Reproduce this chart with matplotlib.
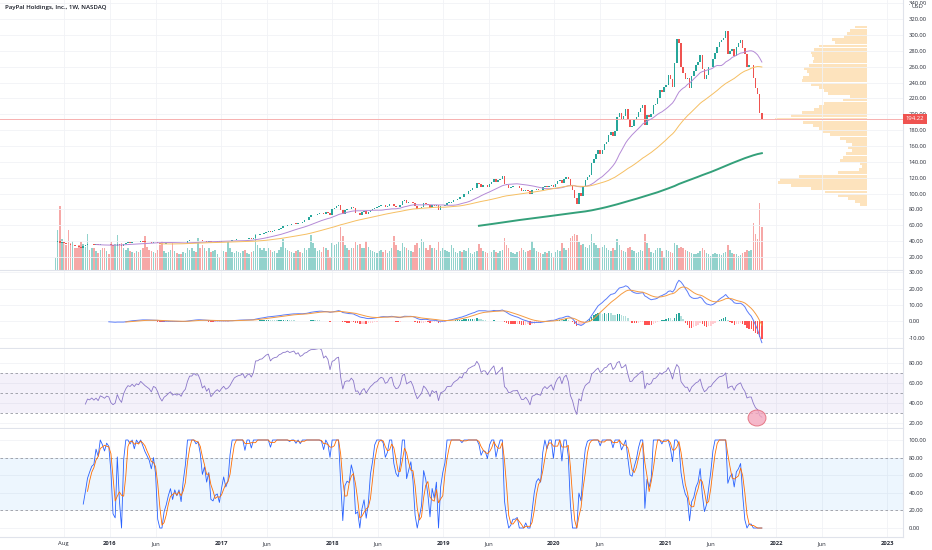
import numpy as np
import pandas as pd
import matplotlib
matplotlib.use("Agg")
import matplotlib.pyplot as plt
import matplotlib.dates as mdates
from matplotlib.patches import Ellipse
from matplotlib.transforms import blended_transform_factory

plt.rcParams['font.family'] = ['Open Sans', 'DejaVu Sans']

# weekly closes of PYPL, first week 2015-07-06
first_week = "2015-07-06"
closes = [
    # 2015
    38.5, 40.2, 38.3, 38.7, 37.5, 36.8, 35.9, 35.0, 35.6, 34.1,
    33.5, 32.3, 31.0, 33.5, 34.8, 36.2, 35.9, 36.4, 35.7, 36.2,
    35.4, 36.6, 36.3, 35.9, 36.4, 36.2,
    # 2016
    34.6, 34.0, 34.3, 36.1, 34.8, 33.9, 36.0, 37.4, 38.4, 38.2,
    38.9, 38.4, 39.2, 39.0, 40.0, 39.6, 39.2, 38.9, 38.6, 38.0,
    39.2, 39.0, 38.2, 37.0, 36.2, 36.9, 37.2, 37.6, 37.9, 37.3,
    37.5, 37.3, 37.5, 37.1, 37.8, 38.2, 39.7, 41.0, 41.0, 41.7,
    41.5, 41.6, 41.0, 39.9, 40.3, 39.5, 40.0, 38.6, 39.0, 39.5,
    39.8, 39.5,
    # 2017
    40.0, 40.4, 40.0, 40.2, 40.6, 41.3, 42.0, 42.3, 42.5, 42.6,
    42.9, 42.5, 43.0, 43.3, 43.0, 43.9, 47.8, 47.9, 48.7, 48.9,
    50.1, 51.5, 52.3, 51.5, 53.0, 53.7, 54.0, 55.9, 56.8, 58.6,
    58.8, 60.5, 60.3, 61.2, 62.3, 61.9, 63.5, 63.0, 64.0, 66.5,
    67.3, 70.2, 72.6, 72.9, 73.5, 74.6, 75.6, 75.4, 74.1, 76.2,
    75.6, 73.6,
    # 2018
    80.5, 81.5, 84.6, 86.0, 79.6, 74.0, 79.5, 80.2, 80.0, 82.5,
    81.3, 75.6, 75.9, 73.5, 76.2, 77.5, 74.9, 77.0, 79.0, 80.3,
    82.0, 82.5, 84.4, 85.7, 85.3, 83.3, 84.0, 86.7, 87.3, 84.0,
    82.6, 83.0, 85.0, 91.0, 92.3, 88.0, 89.0, 89.9, 87.8, 84.0,
    80.5, 82.0, 83.5, 88.2, 87.0, 85.0, 82.0, 85.8, 84.5, 85.4,
    79.0, 84.1, 84.8,
    # 2019
    85.8, 88.5, 88.7, 88.8, 91.3, 92.5, 93.5, 95.8, 95.3, 99.5,
    100.0, 103.8, 105.0, 106.5, 107.3, 113.0, 111.8, 108.8, 110.4, 110.3,
    108.9, 112.0, 115.0, 118.0, 114.5, 116.8, 119.0, 122.5, 112.0, 110.5,
    107.5, 108.0, 109.0, 109.0, 109.3, 106.5, 103.5, 103.5, 104.6, 102.8,
    99.5, 104.0, 104.5, 105.3, 105.0, 104.6, 107.9, 109.3, 108.3, 109.5,
    110.5, 108.2,
    # 2020
    112.5, 115.5, 117.0, 113.9, 119.0, 121.0, 118.0, 109.0, 104.5, 95.0,
    87.0, 100.5, 97.5, 110.0, 117.5, 120.5, 123.0, 139.0, 143.5, 150.0,
    155.0, 150.5, 155.0, 163.0, 165.0, 174.0, 178.0, 172.0, 178.5, 196.0,
    201.0, 194.0, 197.5, 206.0, 194.5, 184.0, 185.0, 193.0, 197.0, 203.0,
    208.0, 212.0, 186.0, 199.5, 197.0, 200.0, 212.0, 213.5, 220.0, 230.0,
    228.0, 234.0,
    # 2021
    237.0, 250.0, 244.0, 234.3, 264.0, 295.0, 290.0, 259.9, 252.0, 245.0,
    245.5, 233.5, 248.0, 255.0, 262.0, 265.5, 275.0, 257.0, 245.0, 250.0,
    259.0, 260.0, 270.0, 277.0, 285.0, 291.5, 293.0, 296.0, 305.0, 275.5,
    280.0, 282.0, 273.0, 285.0, 290.0, 293.0, 283.0, 276.0, 260.0, 262.0,
    262.0, 246.0, 232.7, 226.0, 201.9, 194.22,
]

# weekly volume, millions of shares
volumes = [
    26, 90, 143, 70, 62, 55, 88, 60, 65, 50,
    48, 55, 62, 58, 52, 80, 45, 48, 50, 42,
    38, 45, 48, 50, 42, 35,
    62, 55, 58, 78, 55, 60, 50, 45, 48, 42,
    40, 38, 42, 40, 45, 48, 75, 52, 45, 42,
    40, 38, 45, 55, 65, 42, 38, 40, 45, 60,
    42, 38, 35, 36, 40, 38, 50, 45, 48, 42,
    40, 72, 50, 55, 48, 42, 50, 40, 42, 45,
    35, 30,
    45, 42, 40, 62, 48, 40, 38, 42, 40, 38,
    42, 45, 38, 36, 40, 42, 80, 55, 50, 45,
    48, 42, 50, 45, 40, 42, 38, 45, 52, 70,
    50, 45, 42, 40, 38, 42, 45, 40, 38, 48,
    45, 50, 78, 60, 48, 42, 45, 40, 52, 48,
    44, 30,
    60, 55, 58, 62, 95, 75, 55, 48, 45, 50,
    48, 62, 55, 58, 50, 48, 65, 52, 45, 42,
    40, 38, 42, 45, 40, 45, 38, 42, 48, 75,
    55, 45, 42, 60, 52, 48, 45, 42, 40, 55,
    60, 50, 68, 62, 50, 45, 55, 48, 50, 45,
    62, 42, 48,
    45, 42, 40, 55, 48, 40, 38, 42, 40, 45,
    42, 48, 38, 36, 40, 42, 58, 48, 42, 40,
    38, 42, 40, 45, 40, 38, 42, 45, 72, 55,
    48, 40, 38, 36, 40, 42, 48, 45, 40, 42,
    45, 65, 48, 42, 40, 38, 35, 40, 38, 42,
    38, 30,
    40, 45, 42, 60, 50, 45, 48, 72, 75, 80,
    78, 62, 55, 58, 52, 48, 55, 80, 60, 55,
    50, 48, 52, 55, 50, 45, 42, 48, 45, 70,
    55, 45, 42, 40, 48, 52, 45, 42, 38, 40,
    45, 42, 80, 60, 48, 40, 38, 45, 50, 48,
    42, 30,
    45, 42, 40, 38, 60, 55, 48, 52, 50, 45,
    42, 40, 38, 35, 36, 38, 42, 50, 45, 38,
    36, 32, 35, 38, 36, 35, 34, 38, 40, 55,
    45, 38, 36, 35, 32, 34, 38, 40, 45, 42,
    45, 105, 80, 70, 148, 95,
]

# visible range volume profile (price level -> relative volume)
profile_prices = [86, 90, 94, 98, 102, 106, 110, 114, 118, 122, 126, 130, 134, 138,
                  142, 146, 150, 154, 158, 162, 166, 170, 174, 178, 182, 186, 190, 194,
                  198, 202, 206, 210, 214, 218, 222, 226, 230, 234, 238, 242, 246, 250,
                  254, 258, 262, 266, 270, 274, 278, 282, 286, 290, 294, 298, 302, 306, 310]
profile_volume = [7, 12, 20, 30, 43, 58, 78, 92, 90, 70, 30, 8, 5, 7,
                  28, 25, 22, 15, 20, 15, 22, 28, 38, 45, 50, 56, 66, 95,
                  78, 67, 55, 50, 44, 25, 18, 40, 44, 50, 58, 67, 66, 60,
                  62, 65, 60, 56, 55, 57, 58, 55, 50, 33, 36, 24, 21, 18, 12]

price_ticks = list(range(20, 341, 20))
macd_ticks = [-10, 0, 10, 20, 30]
rsi_ticks = [20, 40, 60, 80]
stoch_ticks = [0, 20, 40, 60, 80, 100]
time_ticks = ["2015-08-01", "2016-01-01", "2016-06-01", "2017-01-01", "2017-06-01",
              "2018-01-01", "2018-06-01", "2019-01-01", "2019-06-01", "2020-01-01",
              "2020-06-01", "2021-01-01", "2021-06-01", "2022-01-01", "2022-06-01",
              "2023-01-01"]
time_labels = ["Aug", "2016", "Jun", "2017", "Jun", "2018", "Jun", "2019", "Jun",
               "2020", "Jun", "2021", "Jun", "2022", "Jun", "2023"]

UP, DOWN = "#26a69a", "#ef5350"
W, H = 932, 550


def rma(s, n):
    # Wilder smoothing seeded with a simple mean, like TradingView
    vals = s.values
    out = np.full(len(vals), np.nan)
    out[n] = np.nanmean(vals[1:n + 1])
    for i in range(n + 1, len(vals)):
        out[i] = (out[i - 1] * (n - 1) + vals[i]) / n
    return pd.Series(out, index=s.index)


# ---- series and indicators
dates = pd.date_range(first_week, periods=len(closes), freq="W-MON")
close = pd.Series(closes, index=dates, dtype=float)
opn = close.shift(1).fillna(close.iloc[0])
hi = np.maximum(opn, close)
lo = np.minimum(opn, close)
up = (close >= opn).values

sma20 = close.rolling(20).mean()
sma50 = close.rolling(50).mean()
sma200 = close.rolling(200).mean()

macd = close.ewm(span=12, adjust=False).mean() - close.ewm(span=26, adjust=False).mean()
macd.iloc[:25] = np.nan
signal = macd.ewm(span=9, adjust=False).mean()
signal.iloc[:33] = np.nan
hist = macd - signal
prev = hist.shift(1)
hist_colors = np.where(hist >= 0,
                       np.where(hist > prev, "#26a69a", "#b2dfdb"),
                       np.where(hist > prev, "#ffcdd2", "#ff5252"))

delta = close.diff()
gain = rma(delta.clip(lower=0), 14)
loss = rma(-delta.clip(upper=0), 14)
rsi = 100 - 100 / (1 + gain / loss)

hh = hi.rolling(14).max()
ll = lo.rolling(14).min()
stoch_k = 100 * (close - ll) / (hh - ll)
stoch_d = stoch_k.rolling(3).mean()

# ---- layout
fig = plt.figure(figsize=(W / 100, H / 100), dpi=100)
fig.patch.set_facecolor("white")


def pane(x0, y0, x1, y1):
    return fig.add_axes([x0 / W, 1 - y1 / H, (x1 - x0) / W, (y1 - y0) / H])


px_per_day = 0.3039
ref = mdates.date2num(pd.Timestamp("2016-01-01"))
xlim = (ref - 110 / px_per_day, ref + (903 - 110) / px_per_day)
tick_x = [mdates.date2num(pd.Timestamp(t)) for t in time_ticks]

# volume profile sits behind the price pane
pax = pane(770, 0, 867, 270)
ax = pane(0, 0, 903, 270)
vax = ax.twinx()
ax_macd = pane(0, 271, 903, 348)
ax_rsi = pane(0, 349, 903, 428)
ax_st = pane(0, 429, 903, 537)
panes = [(ax, (3.7, 344), price_ticks), (ax_macd, (-16.2, 30.8), macd_ticks),
         (ax_rsi, (15, 94), rsi_ticks), (ax_st, (-10.2, 112.5), stoch_ticks)]

for a, ylim, yt in panes:
    a.set_xlim(xlim)
    a.set_ylim(ylim)
    a.set_xticks(tick_x)
    a.set_yticks(yt)
    a.set_yticklabels([f"{v:.2f}" for v in yt])
    a.yaxis.tick_right()
    a.tick_params(axis="y", length=0, pad=4, labelsize=4.2, labelcolor="#2a2e39",
                  labelright=True, labelleft=False)
    a.tick_params(axis="x", length=0, labelbottom=False)
    a.grid(True, color="#f1f2f6", lw=0.6)
    a.set_axisbelow(True)
    for s in ("top", "left"):
        a.spines[s].set_visible(False)
    for s in ("bottom", "right"):
        a.spines[s].set_color("#e0e3eb")
        a.spines[s].set_linewidth(0.8)

# volume under the candles
vax.set_xlim(xlim)
vax.set_ylim(0, 600)
vax.axis("off")
vax.bar(dates, volumes, width=5.0, color=np.where(up, UP, DOWN), alpha=0.5, linewidth=0)

pax.barh(profile_prices, profile_volume, height=3.7, color="#fde3bd", linewidth=0)
pax.set_xlim(100, 0)
pax.set_ylim(ax.get_ylim())
pax.axis("off")

pax.set_zorder(0)
vax.set_zorder(1)
ax.set_zorder(2)
ax.patch.set_visible(False)

# candles
body = np.maximum((hi - lo).values, 0.45)
ax.bar(dates, body, bottom=lo.values, width=5.0, color=np.where(up, UP, DOWN), linewidth=0)
ax.plot(dates, sma20, color="#b48ad6", lw=0.7)
ax.plot(dates, sma50, color="#f6bf62", lw=0.7)
ax.plot(dates, sma200, color="#34a07a", lw=1.4)

last = closes[-1]
ax.axhline(last, color="#f7b0b0", lw=0.7, zorder=1)
ax.text(1.003, last, f"{last:.2f}", transform=blended_transform_factory(ax.transAxes, ax.transData),
        ha="left", va="center", fontsize=4.2, color="white", clip_on=False, zorder=10,
        bbox=dict(boxstyle="square,pad=0.45", fc="#ef5350", ec="none"))
fig.text(917 / W, 1 - 7 / H, "USD", fontsize=4.2, color="#2a2e39", ha="center", va="center",
         bbox=dict(boxstyle="square,pad=0.1", fc="white", ec="none"))
fig.text(5 / W, 1 - 8 / H, "PayPal Holdings, Inc., 1W, NASDAQ", fontsize=4.4,
         fontweight="semibold", color="#131722", va="center")

# MACD
ax_macd.bar(dates, hist, width=4.6, color=hist_colors, linewidth=0)
ax_macd.plot(dates, macd, color="#5b7cfa", lw=0.7)
ax_macd.plot(dates, signal, color="#f59b42", lw=0.7)

# RSI
ax_rsi.axhspan(30, 70, color="#7e57c2", alpha=0.08, lw=0)
for lvl in (30, 50, 70):
    ax_rsi.axhline(lvl, color="#9598a1", lw=0.6, ls=(0, (3, 3)))
ax_rsi.plot(dates, rsi, color="#8a76c8", lw=0.6)
ax_rsi.add_patch(Ellipse((mdates.date2num(dates[-1]) - 16, 25), width=59, height=16,
                         facecolor="#f3a6bd", edgecolor="#e06070", lw=0.7, alpha=0.8, zorder=5))

# Stochastic
ax_st.axhspan(20, 80, color="#2196f3", alpha=0.08, lw=0)
for lvl in (20, 80):
    ax_st.axhline(lvl, color="#9598a1", lw=0.6, ls=(0, (3, 3)))
ax_st.plot(dates, stoch_k, color="#2962ff", lw=0.6)
ax_st.plot(dates, stoch_d, color="#ff6d00", lw=0.6)

ax_st.tick_params(axis="x", labelbottom=True, pad=3, labelsize=4.2, labelcolor="#2a2e39")
ax_st.set_xticklabels(time_labels)
for lbl in ax_st.get_xticklabels():
    if lbl.get_text().isdigit():
        lbl.set_fontweight("bold")

fig.savefig("out.png", dpi=100, facecolor="white")
